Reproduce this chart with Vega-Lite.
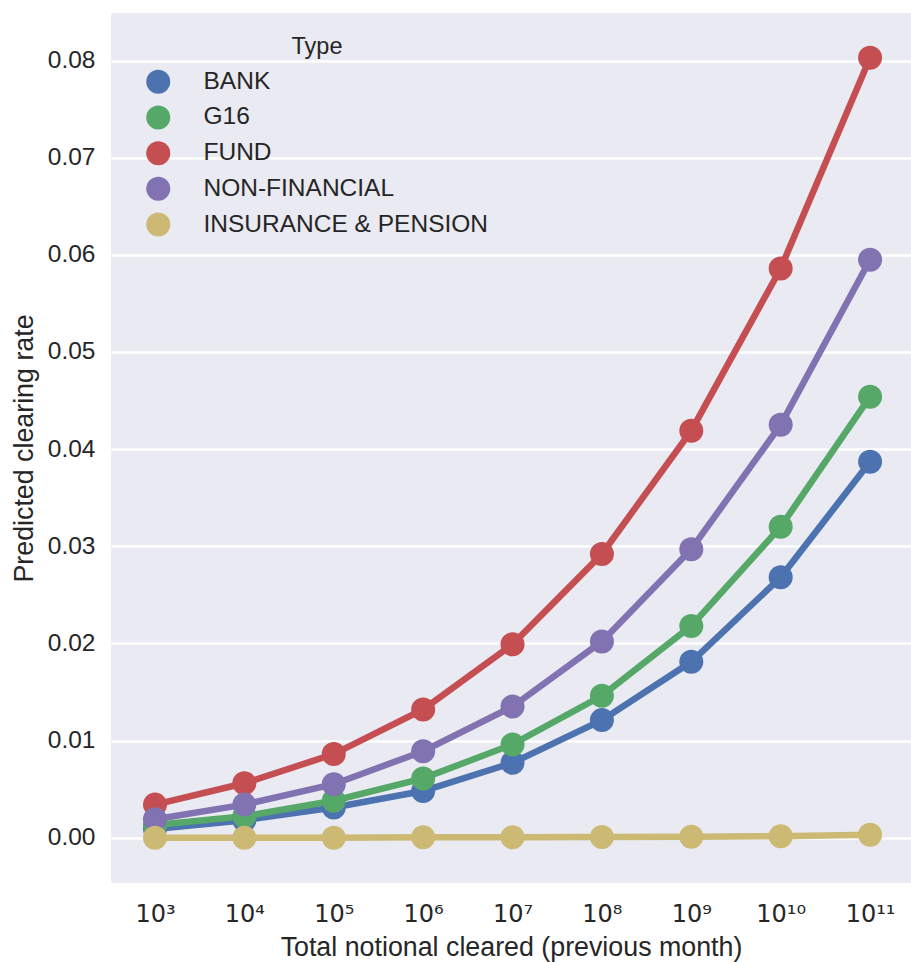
{
  "$schema": "https://vega.github.io/schema/vega-lite/v6.json",
  "width": 800,
  "height": 870,
  "autosize": {"type": "none"},
  "padding": {"left": 111, "top": 13, "right": 0, "bottom": 79},
  "background": "white",
  "config": {
    "view": {"fill": "#EAEAF2", "stroke": null},
    "font": "Liberation Sans",
    "axis": {"labelColor": "#262626", "titleColor": "#262626", "domain": false, "ticks": false, "tickSize": 0}
  },
  "data": {
    "values": [
      {"x": "10³", "type": "BANK", "rate": 0.0009},
      {"x": "10⁴", "type": "BANK", "rate": 0.0018},
      {"x": "10⁵", "type": "BANK", "rate": 0.0031},
      {"x": "10⁶", "type": "BANK", "rate": 0.0048},
      {"x": "10⁷", "type": "BANK", "rate": 0.0077},
      {"x": "10⁸", "type": "BANK", "rate": 0.0121},
      {"x": "10⁹", "type": "BANK", "rate": 0.0181},
      {"x": "10¹⁰", "type": "BANK", "rate": 0.0268},
      {"x": "10¹¹", "type": "BANK", "rate": 0.0387},
      {"x": "10³", "type": "G16", "rate": 0.0013},
      {"x": "10⁴", "type": "G16", "rate": 0.0022},
      {"x": "10⁵", "type": "G16", "rate": 0.0038},
      {"x": "10⁶", "type": "G16", "rate": 0.0061},
      {"x": "10⁷", "type": "G16", "rate": 0.0096},
      {"x": "10⁸", "type": "G16", "rate": 0.0146},
      {"x": "10⁹", "type": "G16", "rate": 0.0218},
      {"x": "10¹⁰", "type": "G16", "rate": 0.0320},
      {"x": "10¹¹", "type": "G16", "rate": 0.0454},
      {"x": "10³", "type": "FUND", "rate": 0.0034},
      {"x": "10⁴", "type": "FUND", "rate": 0.0056},
      {"x": "10⁵", "type": "FUND", "rate": 0.0086},
      {"x": "10⁶", "type": "FUND", "rate": 0.0132},
      {"x": "10⁷", "type": "FUND", "rate": 0.0199},
      {"x": "10⁸", "type": "FUND", "rate": 0.0292},
      {"x": "10⁹", "type": "FUND", "rate": 0.0419},
      {"x": "10¹⁰", "type": "FUND", "rate": 0.0586},
      {"x": "10¹¹", "type": "FUND", "rate": 0.0803},
      {"x": "10³", "type": "NON-FINANCIAL", "rate": 0.0019},
      {"x": "10⁴", "type": "NON-FINANCIAL", "rate": 0.0034},
      {"x": "10⁵", "type": "NON-FINANCIAL", "rate": 0.0055},
      {"x": "10⁶", "type": "NON-FINANCIAL", "rate": 0.0089},
      {"x": "10⁷", "type": "NON-FINANCIAL", "rate": 0.0135},
      {"x": "10⁸", "type": "NON-FINANCIAL", "rate": 0.0202},
      {"x": "10⁹", "type": "NON-FINANCIAL", "rate": 0.0297},
      {"x": "10¹⁰", "type": "NON-FINANCIAL", "rate": 0.0425},
      {"x": "10¹¹", "type": "NON-FINANCIAL", "rate": 0.0595},
      {"x": "10³", "type": "INSURANCE & PENSION", "rate": 0.0000},
      {"x": "10⁴", "type": "INSURANCE & PENSION", "rate": 0.0000},
      {"x": "10⁵", "type": "INSURANCE & PENSION", "rate": 0.0000},
      {"x": "10⁶", "type": "INSURANCE & PENSION", "rate": 0.00003},
      {"x": "10⁷", "type": "INSURANCE & PENSION", "rate": 0.00004},
      {"x": "10⁸", "type": "INSURANCE & PENSION", "rate": 0.00006},
      {"x": "10⁹", "type": "INSURANCE & PENSION", "rate": 0.0001},
      {"x": "10¹⁰", "type": "INSURANCE & PENSION", "rate": 0.00015},
      {"x": "10¹¹", "type": "INSURANCE & PENSION", "rate": 0.0003}
    ]
  },
  "encoding": {
    "x": {
      "field": "x",
      "type": "ordinal",
      "sort": null,
      "scale": {"type": "point", "padding": 0.475, "align": 0.518},
      "axis": {
        "title": "Total notional cleared (previous month)",
        "labelAngle": 0,
        "labelFont": "DejaVu Sans",
        "labelFontSize": 24,
        "labelBaseline": "alphabetic",
        "labelPadding": 38,
        "titleFontSize": 26.8,
        "titleFontWeight": "normal",
        "titleBaseline": "alphabetic",
        "titleY": 72,
        "grid": false
      }
    },
    "y": {
      "field": "rate",
      "type": "quantitative",
      "scale": {"domain": [-0.00467, 0.0849], "nice": false, "zero": false},
      "axis": {
        "title": "Predicted clearing rate",
        "values": [0, 0.01, 0.02, 0.03, 0.04, 0.05, 0.06, 0.07, 0.08],
        "format": ".2f",
        "labelFontSize": 24.5,
        "labelPadding": 16,
        "gridColor": "white",
        "gridWidth": 2.5,
        "gridOpacity": 1,
        "titleFontSize": 26.8,
        "titleFontWeight": "normal",
        "titleBaseline": "alphabetic",
        "titleX": -79,
        "titleY": 435,
        "titleAngle": -90
      }
    },
    "color": {
      "field": "type",
      "type": "nominal",
      "scale": {
        "domain": ["BANK", "G16", "FUND", "NON-FINANCIAL", "INSURANCE & PENSION"],
        "range": ["#4C72B0", "#55A868", "#C44E52", "#8172B2", "#CCB974"]
      },
      "legend": {
        "title": "Type",
        "orient": "none",
        "legendX": 35,
        "legendY": 22,
        "titleFontSize": 23.5,
        "titleFontWeight": "normal",
        "titleColor": "#262626",
        "titleAnchor": "middle",
        "titleAlign": "center",
        "titleBaseline": "top",
        "titlePadding": 11,
        "labelFontSize": 24.5,
        "labelColor": "#262626",
        "labelLimit": 500,
        "labelOffset": 33,
        "symbolType": "circle",
        "symbolSize": 576,
        "symbolOpacity": 1,
        "symbolStrokeWidth": 0,
        "rowPadding": 9.7,
        "padding": 0,
        "encode": {
          "symbols": {
            "update": {
              "fill": {"scale": "color", "field": "value"},
              "stroke": {"value": "transparent"}
            }
          }
        }
      }
    }
  },
  "layer": [
    {
      "mark": {"type": "line", "strokeWidth": 6.5}
    },
    {
      "mark": {"type": "circle", "size": 576, "opacity": 1}
    }
  ]
}
